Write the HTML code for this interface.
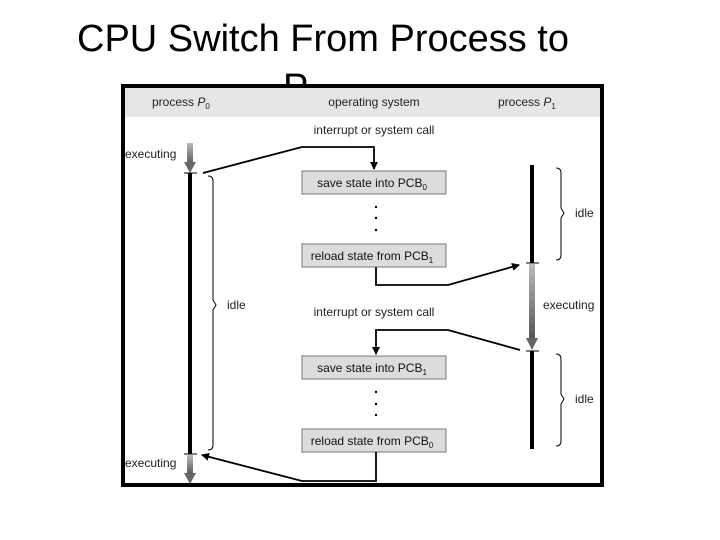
<!DOCTYPE html>
<html><head><meta charset="utf-8"><style>
body{margin:0;background:#fff;width:720px;height:540px;overflow:hidden;position:relative;font-family:"Liberation Sans",Arial,sans-serif}
.t{position:absolute;font-size:38px;color:#000;white-space:nowrap;line-height:1}
</style></head><body>
<div class="t" style="left:77px;top:20px">CPU Switch From Process to</div>
<div class="t" style="left:283px;top:69px">P</div>
<svg style="position:absolute;left:0;top:0" width="720" height="540" viewBox="0 0 720 540" font-family="Liberation Sans, Arial, sans-serif">
<defs>
<linearGradient id="g" x1="0" y1="0" x2="0" y2="1"><stop offset="0" stop-color="#bbb"/><stop offset="1" stop-color="#555"/></linearGradient>
<marker id="a" markerWidth="8" markerHeight="8" refX="7" refY="4" orient="auto" markerUnits="userSpaceOnUse"><path d="M0,0 L8,4 L0,8 Z" fill="#000"/></marker>
</defs>
<rect x="123" y="86" width="479" height="399" fill="#fff" stroke="#000" stroke-width="4"/>
<rect x="125" y="88" width="475" height="29" fill="#e6e6e6"/>
<g font-size="12" fill="#222">
<text x="152" y="106">process <tspan font-style="italic">P</tspan><tspan font-size="8" dy="3">0</tspan></text>
<text x="374" y="106" text-anchor="middle">operating system</text>
<text x="498" y="106">process <tspan font-style="italic">P</tspan><tspan font-size="8" dy="3">1</tspan></text>
<text x="374" y="134" text-anchor="middle">interrupt or system call</text>
<text x="374" y="316" text-anchor="middle">interrupt or system call</text>
<text x="125" y="158">executing</text>
<text x="125" y="467">executing</text>
<text x="543" y="309">executing</text>
<text x="227" y="309">idle</text>
<text x="575" y="217">idle</text>
<text x="575" y="403">idle</text>
</g>
<rect x="187" y="143" width="6" height="22" fill="url(#g)"/><path d="M184,162 L196,162 L190,173 Z" fill="#666"/>
<line x1="184" y1="173" x2="197" y2="173" stroke="#000"/>
<line x1="190" y1="173" x2="190" y2="454" stroke="#000" stroke-width="4"/>
<line x1="184" y1="454" x2="197" y2="454" stroke="#000"/>
<rect x="187" y="455" width="6" height="20" fill="url(#g)"/><path d="M184,473 L196,473 L190,484 Z" fill="#666"/>
<path d="M208,176 Q213,176 213,181 L213,300 L216,305 L213,310 L213,445 Q213,450 208,450" fill="none" stroke="#000"/>
<line x1="532" y1="165" x2="532" y2="263" stroke="#000" stroke-width="4"/>
<line x1="526" y1="263" x2="539" y2="263" stroke="#000"/>
<rect x="529" y="264" width="6" height="76" fill="url(#g)"/><path d="M526,338 L538,338 L532,350 Z" fill="#666"/>
<line x1="526" y1="351" x2="539" y2="351" stroke="#000"/>
<line x1="532" y1="351" x2="532" y2="449" stroke="#000" stroke-width="4"/>
<path d="M556,168 Q561,168 561,173 L561,208 L564,213 L561,218 L561,255 Q561,260 556,260" fill="none" stroke="#000"/>
<path d="M556,354 Q561,354 561,359 L561,394 L564,399 L561,404 L561,441 Q561,446 556,446" fill="none" stroke="#000"/>
<g fill="#dcdcdc" stroke="#777" stroke-width="1">
<rect x="302" y="171" width="144" height="23"/><rect x="302" y="244" width="144" height="23"/>
<rect x="302" y="356" width="144" height="23"/><rect x="302" y="429" width="144" height="23"/>
</g>
<g font-size="12" fill="#111" text-anchor="middle">
<text x="372" y="187">save state into PCB<tspan font-size="8" dy="3">0</tspan></text>
<text x="372" y="260">reload state from PCB<tspan font-size="8" dy="3">1</tspan></text>
<text x="372" y="372">save state into PCB<tspan font-size="8" dy="3">1</tspan></text>
<text x="372" y="445">reload state from PCB<tspan font-size="8" dy="3">0</tspan></text>
</g>
<g fill="#000"><circle cx="376" cy="207" r="1.2"/><circle cx="376" cy="218" r="1.2"/><circle cx="376" cy="230" r="1.2"/>
<circle cx="376" cy="392" r="1.2"/><circle cx="376" cy="404" r="1.2"/><circle cx="376" cy="415" r="1.2"/></g>
<g fill="none" stroke="#000" stroke-width="1.8">
<path d="M203,173 L302,147 L374,147 L374,169" marker-end="url(#a)"/>
<path d="M376,267 L376,285 L448,285 L519,265" marker-end="url(#a)"/>
<path d="M520,350 L448,330 L376,330 L376,354" marker-end="url(#a)"/>
<path d="M376,452 L376,481 L302,481 L202,455" marker-end="url(#a)"/>
</g>
</svg>
</body></html>
